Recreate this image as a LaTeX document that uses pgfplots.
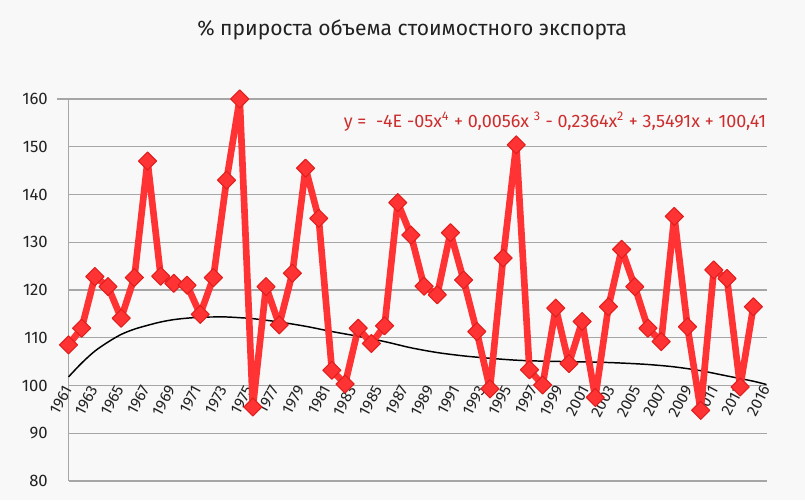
\documentclass[border=0pt]{standalone}
\usepackage{pgfplots}
\pgfplotsset{compat=1.18}
\usepackage{pgfplotstable}
\usepackage{fontspec}
\setmainfont{Fira Sans}
\definecolor{bg}{RGB}{248,248,248}
\definecolor{gridc}{RGB}{166,166,166}
\definecolor{redline}{RGB}{255,51,51}
\definecolor{reddark}{RGB}{225,30,30}
\definecolor{eqred}{RGB}{205,45,45}
\definecolor{txt}{RGB}{34,34,34}

\pgfplotstableread{
year value
1961 108.5
1962 112.0
1963 122.8
1964 120.7
1965 114.1
1966 122.6
1967 147.0
1968 122.9
1969 121.4
1970 121.0
1971 114.9
1972 122.6
1973 143.0
1974 160.0
1975 95.5
1976 120.7
1977 112.7
1978 123.5
1979 145.5
1980 135.0
1981 103.2
1982 100.3
1983 112.0
1984 108.8
1985 112.5
1986 138.3
1987 131.5
1988 120.8
1989 119.0
1990 132.0
1991 122.1
1992 111.3
1993 99.3
1994 126.7
1995 150.4
1996 103.3
1997 100.1
1998 116.2
1999 104.6
2000 113.4
2001 97.5
2002 116.5
2003 128.5
2004 120.7
2005 112.0
2006 109.2
2007 135.4
2008 112.3
2009 94.8
2010 124.2
2011 122.4
2012 99.7
2013 116.5
}\exportdata

\pgfplotstableread{
year value
1961 101.8
1962 104.7
1963 107.2
1964 109.1
1965 110.7
1966 111.8
1967 112.6
1968 113.3
1969 113.8
1970 114.1
1971 114.3
1972 114.35
1973 114.35
1974 114.2
1975 114.0
1977 113.3
1979 112.4
1981 111.3
1983 110.3
1985 109.2
1987 107.9
1989 106.9
1991 106.2
1993 105.7
1995 105.3
1997 105.1
1999 105.0
2001 104.9
2003 104.7
2005 104.4
2007 103.9
2009 103.1
2011 102.0
2013 100.9
2014 100.2
}\trenddata

\begin{document}
\begin{tikzpicture}
\path[use as bounding box, fill=bg] (0,0) rectangle (603.75pt,375pt);
\node[font=\fontsize{15.8}{19}\selectfont, text=txt] at (309pt,352.5pt) {\% прироста объема стоимостного экспорта};
\begin{axis}[
  at={(51.375pt,14.25pt)}, anchor=south west,
  scale only axis, width=523.5pt, height=286.5pt,
  xmin=1961, xmax=2014, ymin=80, ymax=160,
  ytick={80,90,...,160},
  xtick={1961,1962.963,1964.926,1966.889,1968.852,1970.815,1972.778,1974.741,1976.704,1978.667,1980.630,1982.593,1984.556,1986.519,1988.481,1990.444,1992.407,1994.370,1996.333,1998.296,2000.259,2002.222,2004.185,2006.148,2008.111,2010.074,2012.037,2014},
  xticklabels={1961,1963,1965,1967,1969,1971,1973,1975,1977,1979,1981,1983,1985,1987,1989,1991,1993,1995,1997,1999,2001,2003,2005,2007,2009,2011,2013,2016},
  minor x tick num=3,
  major tick length=0pt, minor tick length=3pt, tick align=outside,
  tick style={gridc, line width=0.8pt},
  axis y line*=left, axis x line*=bottom,
  axis x line shift=-71.625pt,
  axis line style={gridc, line width=1.1pt},
  ymajorgrids, grid style={gridc, line width=1.1pt, shorten <=-9pt},
  clip=false,
  yticklabel style={font=\fontsize{12.5}{14}\selectfont, text=txt, xshift=-12pt},
  xticklabel style={font=\fontsize{11.8}{13}\selectfont, text=txt, rotate=62, anchor=east, inner sep=1pt},
  scaled ticks=false,
  /pgf/number format/assume math mode=true,
  /pgf/number format/1000 sep={},
]
\addplot[black, line width=1.1pt, smooth, no marks] table[x=year, y=value] {\trenddata};
\addplot[redline, line width=5pt, line join=round, mark=square*, mark size=4.8pt,
  mark options={rotate=45, fill=redline, draw=reddark, line width=0.8pt, solid}]
  table[x=year, y=value] {\exportdata};
\node[anchor=east, text=eqred, font=\fontsize{13.5}{15}\selectfont, inner sep=0pt] at (axis cs:2014,155.2)
  {y =\ \ -4E -05x\textsuperscript{4} + 0,0056x \textsuperscript{3} - 0,2364x\textsuperscript{2} + 3,5491x + 100,41};
\end{axis}
\end{tikzpicture}
\end{document}
